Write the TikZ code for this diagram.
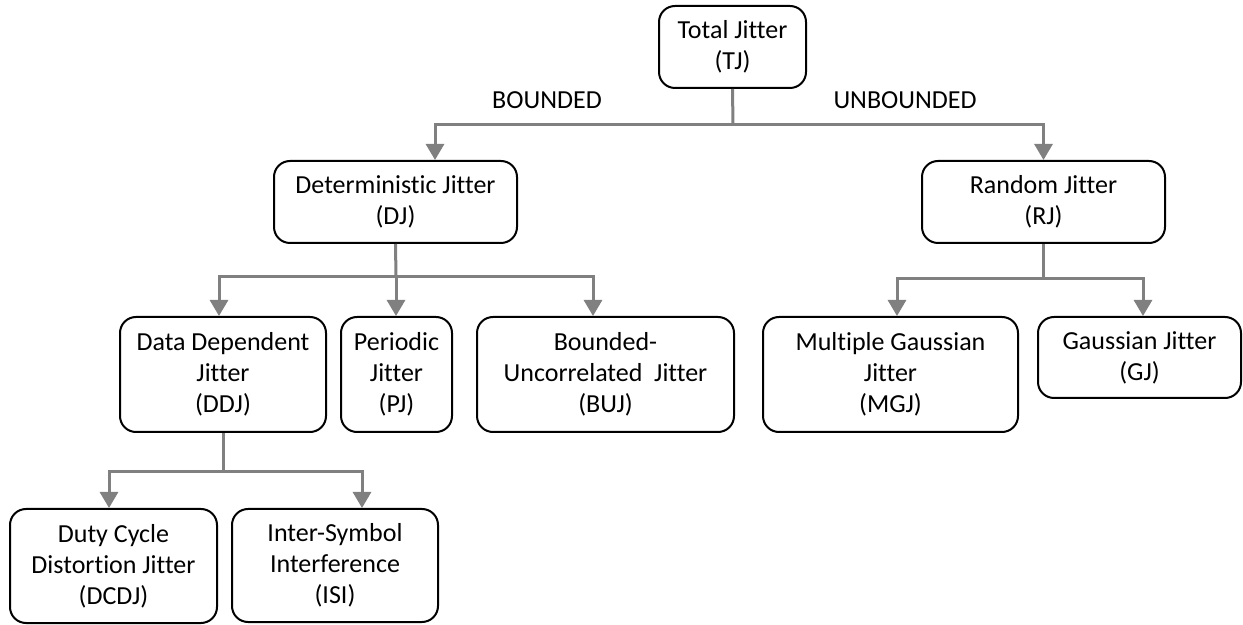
\documentclass[tikz,border=0pt]{standalone}
\usepackage{fontspec}
\setmainfont{Carlito}[Ligatures=NoCommon]
\usetikzlibrary{calc,arrows.meta}
\begin{document}
\begin{tikzpicture}[x=0.5pt,y=-0.5pt,
  box/.style={draw=black,line width=1pt,rounded corners=8pt,align=center,
    inner sep=0pt,font=\fontsize{13}{15.5}\selectfont},
  conn/.style={draw=black!50,line width=1.5pt},
  arr/.style={conn,-{Triangle[length=8pt,width=9pt]}},
  lbl/.style={font=\fontsize{13}{15.5}\selectfont}]
\useasboundingbox (0,0) rectangle (1243,625);

% boxes: (centre) with width / height in pixel units
\node[box,minimum width=147*0.5pt,minimum height=82*0.5pt] (TJ) at (732.5,47) {Total Jitter\\(TJ)};
\node[box,minimum width=243*0.5pt,minimum height=82*0.5pt] (DJ) at (395.5,202) {Deterministic Jitter\\(DJ)};
\node[box,minimum width=243*0.5pt,minimum height=82*0.5pt] (RJ) at (1043.5,202) {Random Jitter\\(RJ)};
\node[box,minimum width=206*0.5pt,minimum height=115*0.5pt] (DDJ) at (223,374.5) {Data Dependent\\Jitter\\(DDJ)};
\node[box,minimum width=111*0.5pt,minimum height=115*0.5pt] (PJ) at (396.5,374.5) {Periodic\\Jitter\\(PJ)};
\node[box,minimum width=257*0.5pt,minimum height=115*0.5pt] (BUJ) at (605.5,374.5) {Bounded-\\Uncorrelated\ \ Jitter\\(BUJ)};
\node[box,minimum width=255*0.5pt,minimum height=115*0.5pt] (MGJ) at (890.5,374.5) {Multiple Gaussian\\Jitter\\(MGJ)};
\node[box,minimum width=203*0.5pt,minimum height=81*0.5pt] (GJ) at (1139.5,357.5) {Gaussian Jitter\\(GJ)};
\node[box,minimum width=207*0.5pt,minimum height=114*0.5pt] (DCDJ) at (113.5,566) {Duty Cycle\\Distortion Jitter\\(DCDJ)};
\node[box,minimum width=206*0.5pt,minimum height=113*0.5pt] (ISI) at (335,565.5) {Inter-Symbol\\Interference\\(ISI)};

% branch labels
\node[lbl] (bnd) at (547,100) {BOUNDED};
\node[lbl] (unb) at (905,100) {UNBOUNDED};

% junction points on the horizontal bars
\coordinate (jTJ) at (733,125);
\coordinate (jDJ) at (396,277);
\coordinate (jRJ) at (1043.5,279);
\coordinate (jDDJ) at (223,472);

% Total Jitter
\draw[conn] (TJ.south) -- (jTJ);
\draw[arr] (jTJ) -| ($(DJ.north)+(39.5,0)$);
\draw[arr] (jTJ) -| (RJ.north);

% Deterministic Jitter
\draw[conn] (DJ.south) -- (jDJ);
\draw[arr] (jDJ) -| ($(DDJ.north)+(-4,0)$);
\draw[arr] (jDJ) -- (jDJ |- PJ.north);
\draw[arr] (jDJ) -| ($(BUJ.north)+(-12.5,0)$);

% Random Jitter
\draw[conn] (RJ.south) -- (jRJ);
\draw[arr] (jRJ) -| ($(MGJ.north)+(6.5,0)$);
\draw[arr] (jRJ) -| ($(GJ.north)+(3.5,0)$);

% Data Dependent Jitter
\draw[conn] (DDJ.south) -- (jDDJ);
\draw[arr] (jDDJ) -| ($(DCDJ.north)+(-4.5,0)$);
\draw[arr] (jDDJ) -| ($(ISI.north)+(27,0)$);
\end{tikzpicture}
\end{document}
